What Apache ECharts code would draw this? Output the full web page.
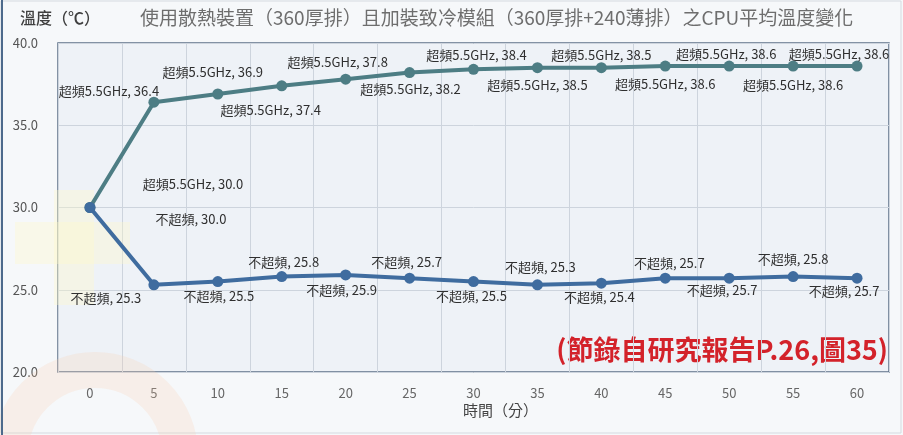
<!DOCTYPE html>
<html>
<head>
<meta charset="utf-8">
<script src="https://cdn.jsdelivr.net/npm/echarts@6/dist/echarts.min.js"></script>
<style>
  html, body { margin: 0; padding: 0; background: #f6f8fa; }
  #chart { width: 903px; height: 435px; }
</style>
</head>
<body>
<div id="chart"></div>
<script>
// Time (minutes) on the x axis
const minutes = ['0', '5', '10', '15', '20', '25', '30', '35', '40', '45', '50', '55', '60'];
// Average CPU temperature (°C), overclocked to 5.5 GHz
const overclocked = [30.0, 36.4, 36.9, 37.4, 37.8, 38.2, 38.4, 38.5, 38.5, 38.6, 38.6, 38.6, 38.6];
// Average CPU temperature (°C), stock clock
const stock = [30.0, 25.3, 25.5, 25.8, 25.9, 25.7, 25.5, 25.3, 25.4, 25.7, 25.7, 25.8, 25.7];
const yTicks = [20, 25, 30, 35, 40];

// Label offsets (px) from each point, so the labels stagger above/below the line
const ocOffsets = [[103, -23], [-45, -11], [-5, -22], [-11, 24], [-8, -17], [1, 16], [3, -14],
                   [0, 17], [0, -13], [0, 18], [-3, -12], [0, 19], [-18, -12]];
const stOffsets = [[101, 12], [-48, 13], [1, 15], [2, -15], [-4, 15], [-3, -16], [-2, 15],
                   [3, -18], [-2, 14], [4, -15], [-7, 12], [0, -18], [-13, 13]];

const FONT = '"Noto Sans CJK TC", "Noto Sans", sans-serif';

function withLabels(values, offsets, prefix) {
  return values.map((v, i) => ({
    value: v,
    label: { show: true, position: 'inside', offset: offsets[i],
             formatter: prefix + v.toFixed(1) }
  }));
}

const chart = echarts.init(document.getElementById('chart'), null, { renderer: 'canvas' });

chart.setOption({
  animation: false,
  backgroundColor: '#f6f8fa',
  textStyle: { fontFamily: FONT },
  grid: {
    left: 58, right: 14, top: 43, bottom: 63,
    show: true, backgroundColor: '#eef2f7',
    borderColor: '#5d7088', borderWidth: 1.5
  },
  graphic: [
    // outer frame
    { type: 'rect', z: -5, shape: { x: 1, y: 1, width: 900, height: 432 },
      style: { fill: 'none', stroke: '#d5dae0', lineWidth: 1 } },
    { type: 'line', z: 10, shape: { x1: 2, y1: 0, x2: 2, y2: 435 },
      style: { stroke: '#4d6a8c', lineWidth: 2 } },
    // faint background decoration
    { type: 'rect', z: 1, shape: { x: 54, y: 190, width: 40, height: 115 },
      style: { fill: 'rgba(255,248,200,0.35)' } },
    { type: 'rect', z: 1, shape: { x: 15, y: 222, width: 115, height: 42 },
      style: { fill: 'rgba(255,248,200,0.35)' } },
    { type: 'circle', z: 1, shape: { cx: 95, cy: 455, r: 85 },
      style: { fill: 'none', stroke: 'rgba(250,205,175,0.22)', lineWidth: 36 } },
    // axis titles and chart title
    { type: 'text', left: 20, top: 10,
      style: { text: '溫度（℃）', font: '500 16px ' + FONT, fill: '#3f3f3f' } },
    { type: 'text', left: 140, top: 8,
      style: { text: '使用散熱裝置（360厚排）且加裝致冷模組（360厚排+240薄排）之CPU平均溫度變化',
               font: '19px ' + FONT, fill: '#6e6e6e' } },
    { type: 'text', left: 463, top: 403,
      style: { text: '時間（分）', font: '15px ' + FONT, fill: '#444' } },
    { type: 'text', right: 15, top: 336,
      style: { text: '(節錄自研究報告P.26,圖35)', font: 'bold 27px ' + FONT, fill: '#d3222a' } }
  ],
  xAxis: {
    type: 'category',
    data: minutes,
    boundaryGap: true,
    axisLine: { show: false },
    axisTick: { show: false },
    axisLabel: { color: '#666', fontSize: 13, margin: 15, fontFamily: FONT },
    splitLine: { show: true, lineStyle: { color: '#cdd4dd', width: 1 } }
  },
  yAxis: {
    type: 'value',
    min: yTicks[0], max: yTicks[yTicks.length - 1], interval: 5,
    axisLine: { show: false },
    axisTick: { show: false },
    axisLabel: { color: '#555', fontSize: 13, margin: 20, fontFamily: FONT,
                 formatter: v => v.toFixed(1) },
    splitLine: { show: true, lineStyle: { color: '#cdd4dd', width: 1 } }
  },
  series: [
    {
      name: '超頻5.5GHz',
      type: 'line',
      data: withLabels(overclocked, ocOffsets, '超頻5.5GHz, '),
      symbol: 'circle', symbolSize: 11,
      itemStyle: { color: '#4d7d84' },
      lineStyle: { color: '#4d7d84', width: 4 },
      label: { color: '#2f2f2f', fontSize: 13, fontFamily: FONT },
      z: 3
    },
    {
      name: '不超頻',
      type: 'line',
      data: withLabels(stock, stOffsets, '不超頻, '),
      symbol: 'circle', symbolSize: 11,
      itemStyle: { color: '#3f6c9f' },
      lineStyle: { color: '#3f6c9f', width: 4 },
      label: { color: '#2f2f2f', fontSize: 13, fontFamily: FONT },
      z: 4
    }
  ]
});
</script>
</body>
</html>
